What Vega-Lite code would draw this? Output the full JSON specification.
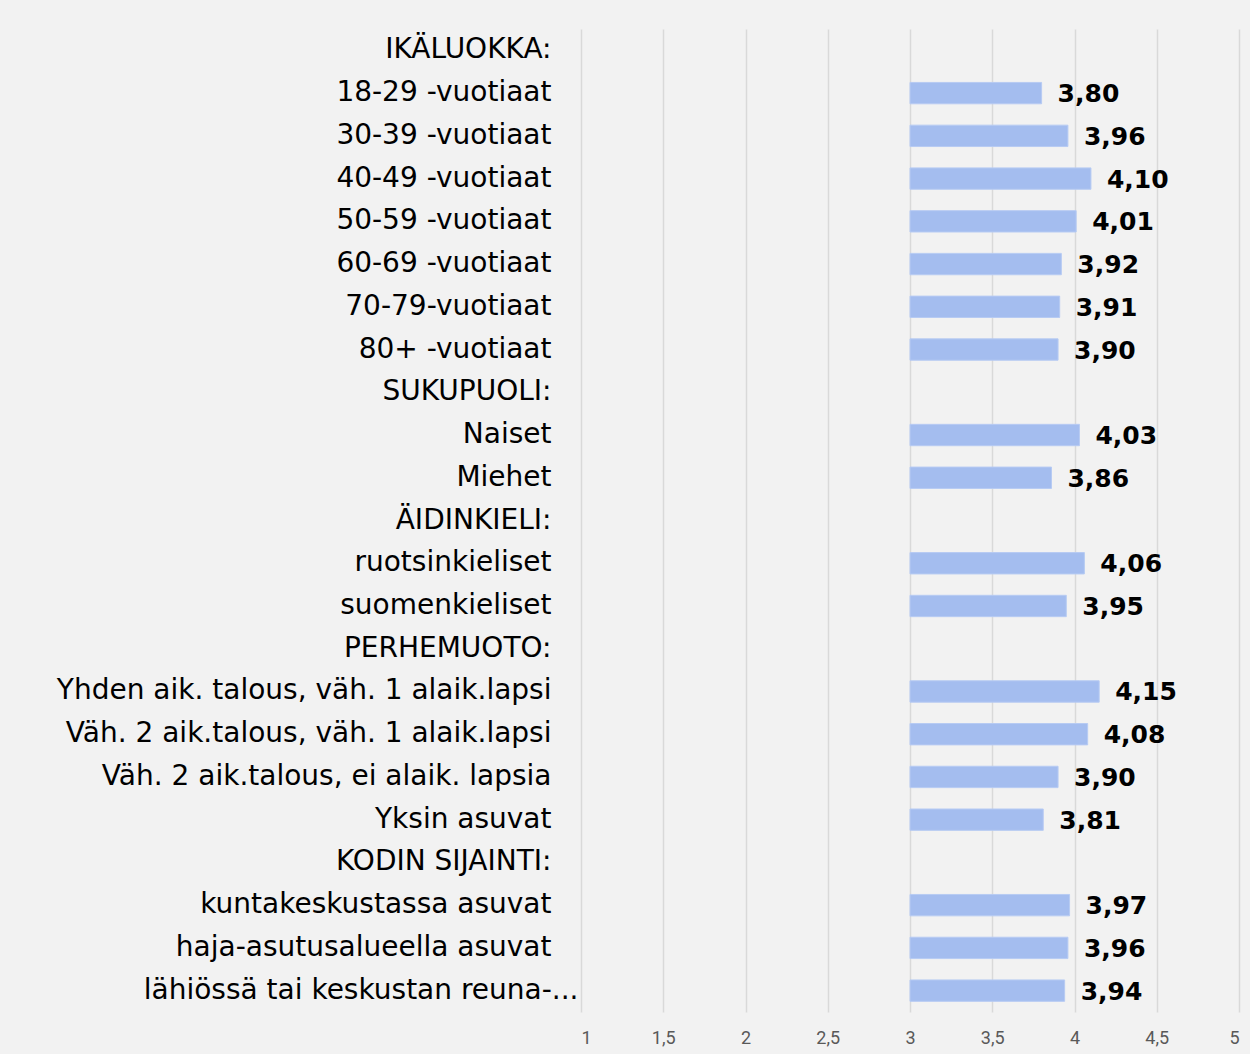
{
  "$schema": "https://vega.github.io/schema/vega-lite/v6.json",
  "autosize": "none",
  "width": 658,
  "height": 983,
  "padding": {"left": 581, "top": 29, "right": 11, "bottom": 42},
  "background": "#f2f2f2",
  "config": {
    "view": {"stroke": null},
    "locale": {"number": {"decimal": ",", "thousands": " ", "grouping": [3], "currency": ["", " €"]}}
  },
  "data": {
    "values": [
      {"label": "IKÄLUOKKA:", "value": null},
      {"label": "18-29 -vuotiaat", "value": 3.80},
      {"label": "30-39 -vuotiaat", "value": 3.96},
      {"label": "40-49 -vuotiaat", "value": 4.10},
      {"label": "50-59 -vuotiaat", "value": 4.01},
      {"label": "60-69 -vuotiaat", "value": 3.92},
      {"label": "70-79-vuotiaat", "value": 3.91},
      {"label": "80+ -vuotiaat", "value": 3.90},
      {"label": "SUKUPUOLI:", "value": null},
      {"label": "Naiset", "value": 4.03},
      {"label": "Miehet", "value": 3.86},
      {"label": "ÄIDINKIELI:", "value": null},
      {"label": "ruotsinkieliset", "value": 4.06},
      {"label": "suomenkieliset", "value": 3.95},
      {"label": "PERHEMUOTO:", "value": null},
      {"label": "Yhden aik. talous, väh. 1 alaik.lapsi", "value": 4.15},
      {"label": "Väh. 2 aik.talous, väh. 1 alaik.lapsi", "value": 4.08},
      {"label": "Väh. 2 aik.talous, ei alaik. lapsia", "value": 3.90},
      {"label": "Yksin asuvat", "value": 3.81},
      {"label": "KODIN SIJAINTI:", "value": null},
      {"label": "kuntakeskustassa asuvat", "value": 3.97},
      {"label": "haja-asutusalueella asuvat", "value": 3.96},
      {"label": "lähiössä tai keskustan reuna-...", "value": 3.94}
    ]
  },
  "encoding": {
    "y": {
      "field": "label",
      "type": "nominal",
      "sort": null,
      "title": null,
      "scale": {
        "domain": ["IKÄLUOKKA:", "18-29 -vuotiaat", "30-39 -vuotiaat", "40-49 -vuotiaat", "50-59 -vuotiaat", "60-69 -vuotiaat", "70-79-vuotiaat", "80+ -vuotiaat", "SUKUPUOLI:", "Naiset", "Miehet", "ÄIDINKIELI:", "ruotsinkieliset", "suomenkieliset", "PERHEMUOTO:", "Yhden aik. talous, väh. 1 alaik.lapsi", "Väh. 2 aik.talous, väh. 1 alaik.lapsi", "Väh. 2 aik.talous, ei alaik. lapsia", "Yksin asuvat", "KODIN SIJAINTI:", "kuntakeskustassa asuvat", "haja-asutusalueella asuvat", "lähiössä tai keskustan reuna-..."],
        "paddingInner": 0.5,
        "paddingOuter": 0.25
      },
      "axis": {
        "domain": false,
        "ticks": false,
        "labelFont": "DejaVu Sans",
        "labelFontSize": 28,
        "labelColor": "#000000",
        "labelLimit": 600,
        "labelPadding": {"condition": {"test": "datum.value == 'lähiössä tai keskustan reuna-...'", "value": 3}, "value": 30}
      }
    }
  },
  "layer": [
    {
      "mark": {"type": "bar", "color": "#a4bdef", "stroke": "#b7cbf3", "strokeWidth": 1},
      "encoding": {
        "x": {
          "field": "value",
          "type": "quantitative",
          "scale": {"domain": [1, 5], "nice": false, "zero": false},
          "title": null,
          "axis": {
            "values": [1, 1.5, 2, 2.5, 3, 3.5, 4, 4.5, 5],
            "labelExpr": "replace(format(datum.value, '~g'), '.', ',')",
            "domain": false,
            "ticks": false,
            "grid": true,
            "gridColor": "#d9d9d9",
            "gridWidth": 1.5,
            "labelFont": "Roboto",
            "labelFontSize": 18,
            "labelColor": "#595959",
            "labelPadding": 17
          }
        },
        "x2": {"datum": 3}
      }
    },
    {
      "mark": {"type": "text", "align": "left", "baseline": "middle", "dx": 16, "dy": 1, "font": "DejaVu Sans", "fontSize": 25, "fontWeight": "bold", "color": "#000000"},
      "encoding": {
        "x": {"field": "value", "type": "quantitative"},
        "text": {"field": "value", "type": "quantitative", "format": ".2f"}
      }
    }
  ]
}
